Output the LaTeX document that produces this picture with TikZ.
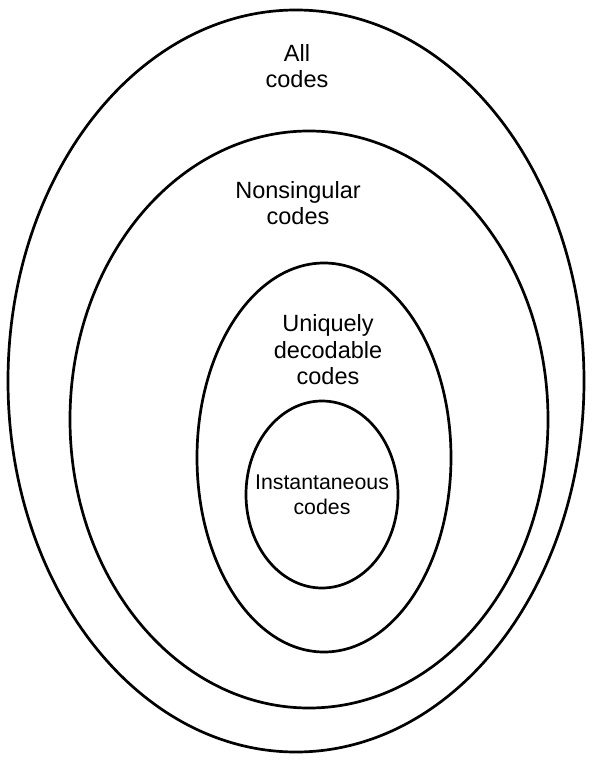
\documentclass[tikz,border=0pt]{standalone}
\usepackage{fontspec}
\setmainfont{Liberation Sans}
\usetikzlibrary{shapes.geometric, positioning}
\tikzset{
  codeset/.style={ellipse, draw=black, line width=2.7pt, inner sep=0pt},
  setlabel/.style={align=center, inner sep=0pt, font=\fontsize{23.5}{26.5}\selectfont},
  instlabel/.style={align=center, inner sep=0pt, font=\fontsize{21.3}{25}\selectfont}
}
\begin{document}
\begin{tikzpicture}[x=1pt, y=-1pt]
  \useasboundingbox (0,0) rectangle (602,762);

  % Nested code classes
  \node[codeset, minimum width=576pt, minimum height=742pt] (all) at (296,381) {};
  \node[codeset, minimum width=478pt, minimum height=577pt] (nonsing) at (309,419.5) {};
  \node[codeset, minimum width=254pt, minimum height=389pt] (uniq) at (324,457.5) {};
  \node[codeset, minimum width=152pt, minimum height=187pt] (inst) at (322,494.5) {};

  % Labels
  \node[setlabel] (alltxt) at (297,66) {All\\codes};
  \node[setlabel] (nonsingtxt) at (298,203) {Nonsingular\\codes};
  \node[setlabel] (uniqtxt) at (328,350) {Uniquely\\decodable\\codes};
  \node[instlabel] (insttxt) at (inst.center) {Instantaneous\\codes};
\end{tikzpicture}
\end{document}
